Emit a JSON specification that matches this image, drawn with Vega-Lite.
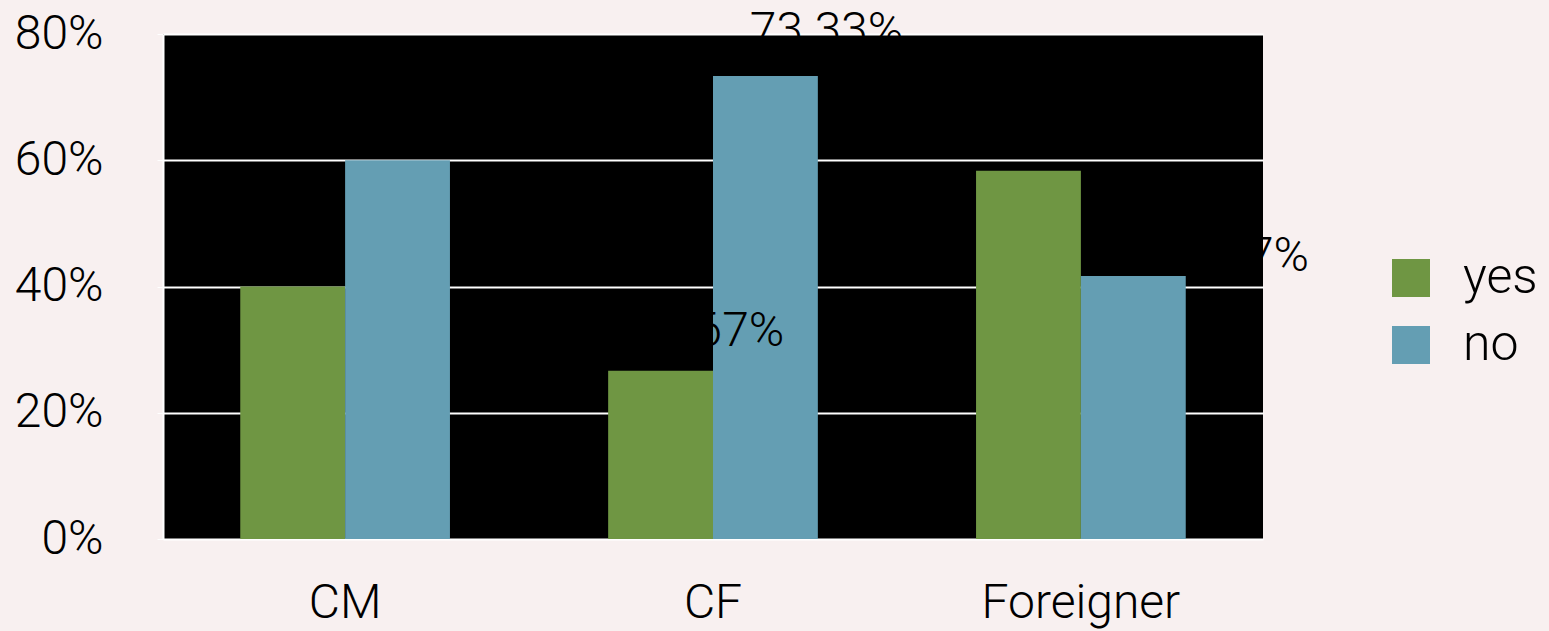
{
  "$schema": "https://vega.github.io/schema/vega-lite/v6.json",
  "width": 1100,
  "height": 505,
  "autosize": {"type": "none"},
  "padding": {"left": 163, "top": 34, "right": 286, "bottom": 92},
  "background": "#f8f0f0",
  "config": {
    "font": "Roboto",
    "view": {"fill": "#000000", "stroke": null}
  },
  "data": {
    "values": [
      {"group": "CM", "answer": "yes", "value": 0.40, "label": "40%"},
      {"group": "CM", "answer": "no", "value": 0.60, "label": "60%"},
      {"group": "CF", "answer": "yes", "value": 0.2667, "label": "26.67%"},
      {"group": "CF", "answer": "no", "value": 0.7333, "label": "73.33%"},
      {"group": "Foreigner", "answer": "yes", "value": 0.5833, "label": "58.33%"},
      {"group": "Foreigner", "answer": "no", "value": 0.4167, "label": "41.67%"}
    ]
  },
  "encoding": {
    "x": {
      "field": "group", "type": "nominal", "sort": ["CM", "CF", "Foreigner"],
      "scale": {"paddingInner": 0.43, "paddingOuter": 0.21},
      "axis": {
        "title": null, "labelAngle": 0, "ticks": false, "labelPadding": 40, "labelLimit": 0,
        "labelFontSize": 48, "labelFontWeight": 300, "labelColor": "#000000",
        "domainColor": "#ffffff", "domainWidth": 1
      }
    },
    "xOffset": {"field": "answer", "type": "nominal", "sort": ["yes", "no"], "scale": {"paddingInner": 0, "paddingOuter": 0}},
    "y": {
      "field": "value", "type": "quantitative",
      "scale": {"domain": [0, 0.8], "nice": false},
      "axis": {
        "title": null, "format": ".0%", "values": [0, 0.2, 0.4, 0.6, 0.8],
        "labelFontSize": 48, "labelFontWeight": 300, "labelColor": "#000000",
        "labelPadding": 54, "tickSize": 6, "tickColor": "#ffffff",
        "domainColor": "#ffffff", "domainWidth": 2,
        "gridColor": "#ffffff", "gridWidth": 2, "gridOpacity": 1
      }
    }
  },
  "layer": [
    {
      "mark": {"type": "bar"},
      "encoding": {
        "color": {
          "field": "answer", "type": "nominal",
          "scale": {"domain": ["yes", "no"], "range": ["#6f9643", "#649eb3"]},
          "legend": {
            "title": null, "orient": "none", "legendX": 1223, "legendY": 219,
            "padding": 0, "symbolType": "square", "symbolSize": 1444,
            "symbolStrokeWidth": 0, "labelFontSize": 50, "labelFontWeight": 300,
            "labelColor": "#000000", "labelOffset": 27, "rowPadding": 17, "labelLimit": 0
          }
        }
      }
    },
    {
      "transform": [{"filter": "datum.label == '73.33%'"}],
      "mark": {"type": "text", "fontSize": 48, "fontWeight": 300, "color": "#000000", "align": "center", "baseline": "alphabetic", "dx": 61, "dy": -30},
      "encoding": {"text": {"field": "label"}}
    },
    {
      "transform": [{"filter": "datum.label == '26.67%'"}],
      "mark": {"type": "text", "fontSize": 48, "fontWeight": 300, "color": "#000000", "align": "center", "baseline": "alphabetic", "dx": 47, "dy": -25},
      "encoding": {"text": {"field": "label"}}
    },
    {
      "transform": [{"filter": "datum.label == '41.67%'"}],
      "mark": {"type": "text", "fontSize": 48, "fontWeight": 300, "color": "#000000", "align": "center", "baseline": "alphabetic", "dx": 99, "dy": -5},
      "encoding": {"text": {"field": "label"}}
    }
  ]
}
